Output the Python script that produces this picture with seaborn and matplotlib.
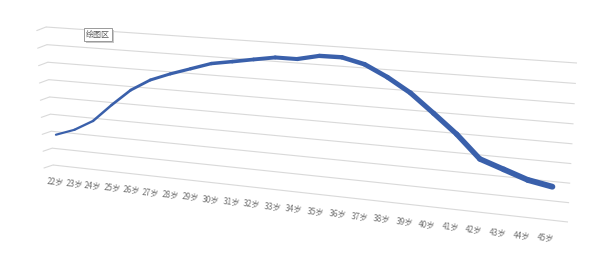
import numpy as np
import matplotlib
matplotlib.use("Agg")
import matplotlib.pyplot as plt
import matplotlib.transforms as mtransforms
from matplotlib.patches import Rectangle
import seaborn as sns

# ---------------- data ----------------
ages = ["22岁", "23岁", "24岁", "25岁", "26岁", "27岁", "28岁", "29岁", "30岁", "31岁",
        "32岁", "33岁", "34岁", "35岁", "36岁", "37岁", "38岁", "39岁", "40岁", "41岁",
        "42岁", "43岁", "44岁", "45岁"]
values = [1.82, 2.22, 2.84, 3.86, 4.80, 5.46, 5.89, 6.26, 6.63, 6.82, 7.02, 7.21,
          7.21, 7.46, 7.47, 7.19, 6.61, 5.89, 4.94, 3.96, 2.79, 2.37, 1.95, 1.73]
grid_levels = [0, 1, 2, 3, 4, 5, 6, 7, 8]
plot_area_label = "绘图区"

# ---------------- style ----------------
sns.set_style("white")
plt.rcParams["font.family"] = ["Noto Sans CJK SC", "DejaVu Sans"]

W, Hh = 599, 276
fig = plt.figure(figsize=(W / 100, Hh / 100), dpi=100)
fig.patch.set_facecolor("white")
ax = fig.add_axes([0, 0, 1, 1])
ax.set_xlim(0, W)
ax.set_ylim(Hh, 0)
ax.axis("off")

# ---------------- perspective (3D look) ----------------
XA, XB = -0.24, 23.70
VTOP = grid_levels[-1]
src = [(XA, 0), (XA, VTOP), (XB, 0), (XB, VTOP)]
dst = [(53, 165), (46, 27), (568, 222), (577, 63)]
A, b = [], []
for (x, y), (X, Y) in zip(src, dst):
    A.append([x, y, 1, 0, 0, 0, -X * x, -X * y]); b.append(X)
    A.append([0, 0, 0, x, y, 1, -Y * x, -Y * y]); b.append(Y)
h = np.linalg.solve(np.array(A, float), np.array(b, float))
Hm = np.append(h, 1.0).reshape(3, 3)


class Perspective(mtransforms.Transform):
    input_dims = 2
    output_dims = 2
    is_separable = False

    def __init__(self, M):
        super().__init__()
        self._M = M

    def transform_non_affine(self, values):
        v = np.asarray(values, float).reshape(-1, 2)
        p = np.column_stack([v, np.ones(len(v))]) @ self._M.T
        return p[:, :2] / p[:, 2:3]

    def inverted(self):
        return Perspective(np.linalg.inv(self._M))


tr = Perspective(Hm) + ax.transData

# ---------------- gridlines (back wall) + side-wall stubs ----------------
grid_color = "#d9d9d9"
for g in grid_levels:
    ax.plot([XA, XB], [g, g], color=grid_color, lw=0.8, transform=tr,
            solid_capstyle="butt", zorder=1)
    ax.plot([XA - 0.5, XA], [g - 0.24, g], color=grid_color, lw=0.8,
            transform=tr, zorder=1)

# ---------------- the series line (widening ribbon) ----------------
line_color = "#3a60ab"
n = len(values)
for i in range(n - 1):
    lw = 1.5 + 2.8 * (i + 0.5) / (n - 1)
    sns.lineplot(x=[i, i + 1], y=[values[i], values[i + 1]], ax=ax,
                 color=line_color, lw=lw, transform=tr,
                 solid_capstyle="round", solid_joinstyle="round", zorder=3)

# ---------------- category labels ----------------
for i, lab in enumerate(ages):
    ax.text(i - 0.15, -0.97, lab, transform=tr, ha="center", va="center",
            fontsize=5.8, color="#707070", rotation=-6, rotation_mode="anchor",
            zorder=4)

# ---------------- "绘图区" tooltip box ----------------
ax.add_patch(Rectangle((85.5, 30), 28.5, 12.5, facecolor="#c8c8c8", edgecolor="none",
                       zorder=5))
ax.add_patch(Rectangle((83.5, 28), 28.5, 12.5, facecolor="white", edgecolor="#9a9a9a",
                       lw=0.7, zorder=6))
ax.text(97.7, 34.3, plot_area_label, ha="center", va="center", fontsize=5.8,
        color="#595959", zorder=7)

ax.set_xlim(0, W)
ax.set_ylim(Hh, 0)
ax.set_xlabel("")
ax.set_ylabel("")
if ax.get_legend() is not None:
    ax.get_legend().remove()

fig.savefig("out.png", dpi=100, facecolor="white")
